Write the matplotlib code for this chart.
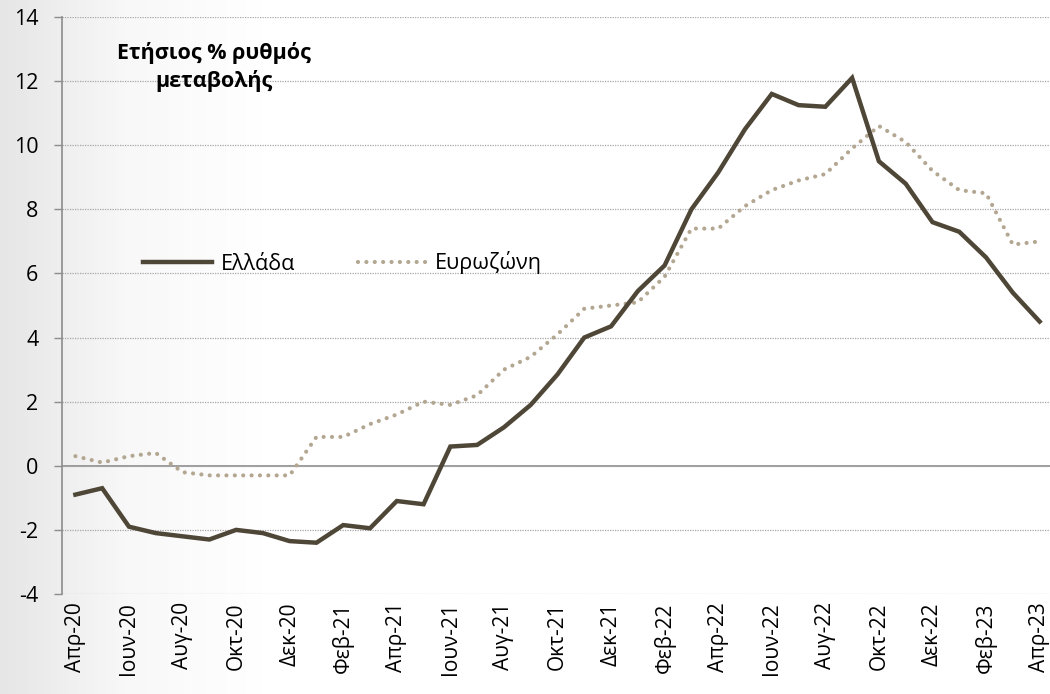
import numpy as np
import matplotlib
matplotlib.use("Agg")
import matplotlib.pyplot as plt
from matplotlib.colors import LinearSegmentedColormap

plt.rcParams['font.family'] = ['Open Sans', 'DejaVu Sans']

months = ["Απρ-20", "Μαϊ-20", "Ιουν-20", "Ιουλ-20", "Αυγ-20", "Σεπ-20", "Οκτ-20", "Νοε-20", "Δεκ-20",
          "Ιαν-21", "Φεβ-21", "Μαρ-21", "Απρ-21", "Μαϊ-21", "Ιουν-21", "Ιουλ-21", "Αυγ-21", "Σεπ-21",
          "Οκτ-21", "Νοε-21", "Δεκ-21", "Ιαν-22", "Φεβ-22", "Μαρ-22", "Απρ-22", "Μαϊ-22", "Ιουν-22",
          "Ιουλ-22", "Αυγ-22", "Σεπ-22", "Οκτ-22", "Νοε-22", "Δεκ-22", "Ιαν-23", "Φεβ-23", "Μαρ-23",
          "Απρ-23"]
greece = [-0.9, -0.7, -1.9, -2.1, -2.2, -2.3, -2.0, -2.1, -2.35, -2.4, -1.85, -1.95,
          -1.1, -1.2, 0.6, 0.65, 1.2, 1.9, 2.85, 4.0, 4.35, 5.45, 6.25, 8.0, 9.15,
          10.5, 11.6, 11.25, 11.2, 12.1, 9.5, 8.8, 7.6, 7.3, 6.5, 5.4, 4.5]
eurozone = [0.3, 0.1, 0.3, 0.4, -0.2, -0.3, -0.3, -0.3, -0.3, 0.9, 0.9, 1.3,
            1.6, 2.0, 1.9, 2.2, 3.0, 3.4, 4.1, 4.9, 5.0, 5.1, 5.9, 7.4, 7.4,
            8.1, 8.6, 8.9, 9.1, 9.9, 10.6, 10.1, 9.2, 8.6, 8.5, 6.9, 7.0]
series_names = ["Ελλάδα", "Ευρωζώνη"]
title_text = "Ετήσιος % ρυθμός\nμεταβολής"

fig = plt.figure(figsize=(10.5, 6.94), dpi=100)

# background gradient
bg = fig.add_axes([0, 0, 1, 1], zorder=-10)
grad = np.linspace(0, 1, 256)[None, :]
cmap = LinearSegmentedColormap.from_list("g", [(0, "#e6e6e6"), (0.12, "#f8f8f8"), (0.25, "#ffffff"), (1, "#ffffff")])
bg.imshow(grad, aspect='auto', cmap=cmap, extent=[0, 1, 0, 1])
bg.axis('off')

ax = fig.add_axes([62/1050, 100/694, (1053-62)/1050, (594-17)/694])
ax.patch.set_alpha(0)

x = np.arange(len(months))
l1, = ax.plot(x, greece, color="#4e4636", lw=3.2, solid_joinstyle='miter', zorder=3)
l2, = ax.plot(x, eurozone, color="#b3a792", lw=3.0, linestyle=(0, (0.01, 2.0)),
              dash_capstyle='round', zorder=2)

ax.set_xlim(-0.5, len(months) - 0.5)
ax.set_ylim(-4, 14)
ax.set_yticks(np.arange(-4, 15, 2))
ax.set_yticklabels([str(v) for v in range(-4, 15, 2)], fontsize=15.5)
ax.grid(axis='y', color='#a6a6a6', linestyle=(0, (1, 1)), linewidth=0.9)
ax.axhline(0, color='#8c8c8c', lw=1.2, zorder=1)

ax.set_xticks(x[::2])
ax.set_xticklabels(months[::2], rotation=90, fontsize=15)
ax.tick_params(axis='x', length=0, pad=6)
ax.tick_params(axis='y', length=6, color='#8c8c8c', width=1, pad=11)

for s in ['top', 'right', 'bottom']:
    ax.spines[s].set_visible(False)
ax.spines['left'].set_color('#8c8c8c')
ax.spines['left'].set_linewidth(1.2)

fig.text(214/1050, 1 - 67/694, title_text, ha='center', va='center', fontsize=15.5,
         fontweight='bold', linespacing=1.3)

ax.legend([l1, l2], series_names, ncol=2, frameon=False, fontsize=15.5,
          loc='center left', bbox_to_anchor=(124/1050, 1 - 263/694),
          bbox_transform=fig.transFigure, handlelength=3.2, columnspacing=2.9,
          handletextpad=0.4)

fig.savefig("out.png", dpi=100)
